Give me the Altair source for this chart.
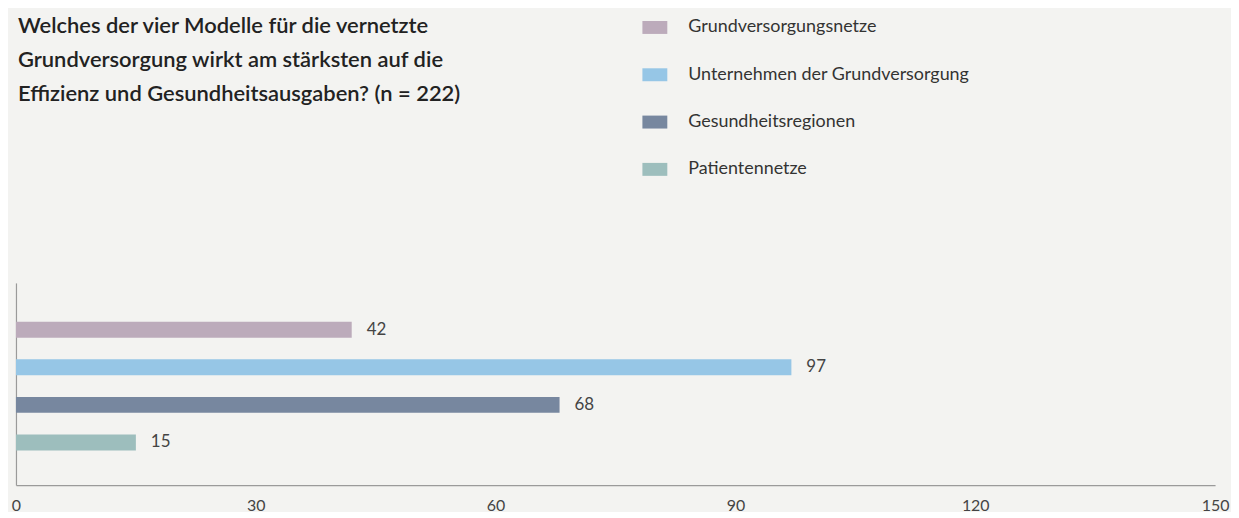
import altair as alt
import pandas as pd

categories = ["Grundversorgungsnetze", "Unternehmen der Grundversorgung", "Gesundheitsregionen", "Patientennetze"]
values = [42, 97, 68, 15]
colors = ["#bcabbb", "#96c6e6", "#77879f", "#9dbebd"]
x_ticks = [0, 30, 60, 90, 120, 150]
title_lines = [
    "Welches der vier Modelle für die vernetzte",
    "Grundversorgung wirkt am stärksten auf die",
    "Effizienz und Gesundheitsausgaben? (n = 222)",
]

df = pd.DataFrame({"Modell": categories, "Anzahl": values})

FONT = "Lato"
BG = "#f3f3f1"

y_enc = alt.Y(
    "Modell:N",
    sort=categories,
    scale=alt.Scale(paddingInner=0, paddingOuter=0.69, align=0.54),
    axis=alt.Axis(labels=False, ticks=False, title=None, domainColor="#9a9a9a", domainWidth=1.2),
)
x_enc = alt.X(
    "Anzahl:Q",
    scale=alt.Scale(domain=[0, 150], nice=False),
    axis=alt.Axis(values=x_ticks, ticks=False, grid=False, title=None,
                  domainColor="#9a9a9a", domainWidth=1.2,
                  labelFont=FONT, labelFontSize=16, labelColor="#444444",
                  labelPadding=13, labelFlush=False, labelOverlap=False),
)

bars = alt.Chart(df).mark_bar(size=16).encode(
    x=x_enc,
    y=y_enc,
    color=alt.Color(
        "Modell:N",
        sort=categories,
        scale=alt.Scale(domain=categories, range=colors),
        legend=alt.Legend(
            title=None,
            orient="none",
            legendX=629,
            legendY=-269,
            symbolType="M-1,-0.52H1V0.52H-1Z",
            symbolSize=625,
            symbolStrokeWidth=0,
            symbolOpacity=1,
            labelFont=FONT,
            labelFontSize=18,
            labelColor="#333333",
            labelOffset=21,
            rowPadding=25.5,
            padding=0,
            labelLimit=400,
        ),
    ),
)

labels = alt.Chart(df).mark_text(
    align="left", baseline="middle", dx=15, font=FONT, fontSize=17, color="#444444"
).encode(
    x="Anzahl:Q",
    y=alt.Y("Modell:N", sort=categories),
    text="Anzahl:Q",
)

chart = (
    alt.layer(bars, labels)
    .properties(
        width=1204,
        height=203,
        padding={"left": 8, "top": 275, "right": 16, "bottom": 26},
        autosize=alt.AutoSizeParams(type="none"),
        background=BG,
        title=alt.TitleParams(
            text=title_lines,
            anchor="start",
            frame="group",
            orient="top",
            offset=-91,
            dx=2,
            font=FONT,
            fontSize=22,
            fontWeight=600,
            color="#222222",
            lineHeight=34,
        ),
    )
    .configure_view(stroke=None)
)

chart.save("out.html", embed_options={"renderer": "svg", "actions": False})
